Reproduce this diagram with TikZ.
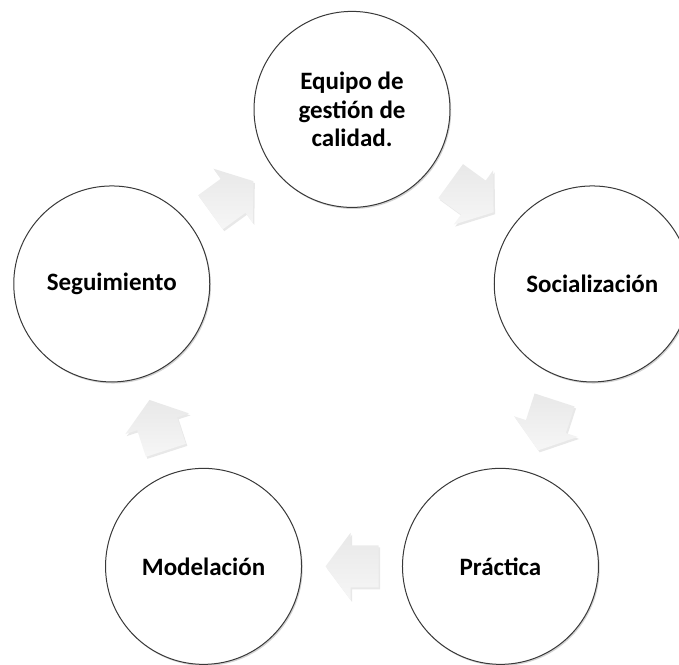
\documentclass[tikz,border=0pt]{standalone}
\usepackage{fontspec}
\setmainfont{Carlito}
\usetikzlibrary{shadows,calc}
\tikzset{
  circ/.style={circle, minimum size=196pt, inner sep=0pt, draw=gray!45!black, line width=1pt,
    fill=white, align=center,
    font=\bfseries\fontsize{25}{28.5}\selectfont,
    drop shadow={opacity=0.35, shadow xshift=1.2pt, shadow yshift=-1.6pt}},
  blockarr/.style={top color=gray!18, bottom color=gray!7, draw=none,
    drop shadow={opacity=0.18, shadow xshift=1.5pt, shadow yshift=-2pt}}
}
\newcommand\blockarrow[3]{%
  \path[blockarr, shift={($(#1)!0.5!(#2)$)}, rotate=#3]
    (-26.5,-21) -- (1.5,-21) -- (1.5,-33.5) -- (26.5,0) -- (1.5,33.5) -- (1.5,21) -- (-26.5,21) -- cycle;}
\begin{document}
\begin{tikzpicture}[x=1pt,y=1pt]
\useasboundingbox (0,0) rectangle (679,664);
\coordinate (C) at (352,302);
\node[circ] (E) at ($(C)+(90:252.6)$) {Equipo de\\gestión de\\calidad.};
\node[circ] (S) at ($(C)+(18:252.6)$) {Socialización};
\node[circ] (P) at ($(C)+(-54:252.6)$) {Práctica};
\node[circ] (M) at ($(C)+(-126:252.6)$) {Modelación};
\node[circ] (G) at ($(C)+(162:252.6)$) {Seguimiento};
\blockarrow{E}{S}{-36}
\blockarrow{S}{P}{-108}
\blockarrow{P}{M}{180}
\blockarrow{M}{G}{108}
\blockarrow{G}{E}{36}
\end{tikzpicture}
\end{document}
